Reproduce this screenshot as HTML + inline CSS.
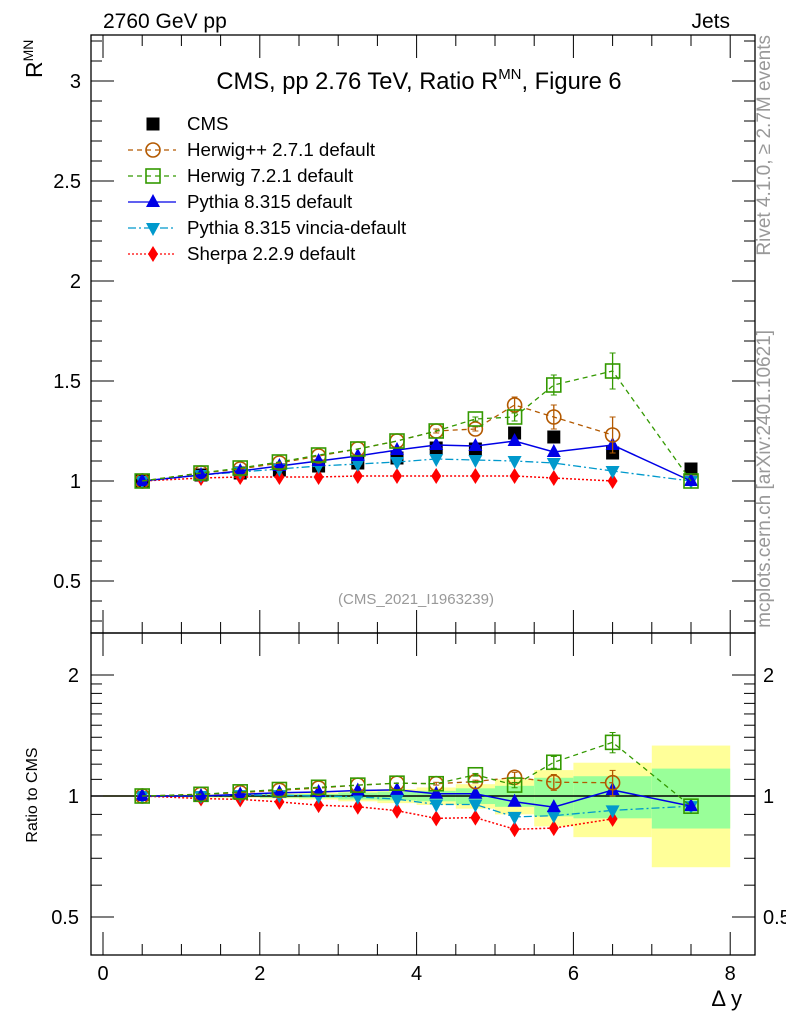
<!DOCTYPE html>
<html><head><meta charset="utf-8"><style>
body{margin:0;background:#fff}
svg{display:block;font-family:"Liberation Sans",sans-serif}
</style></head><body>
<svg id="c" width="786" height="1024" xmlns="http://www.w3.org/2000/svg"></svg>
<script>
const xs=[0.5,1.25,1.75,2.25,2.75,3.25,3.75,4.25,4.75,5.25,5.75,6.5,7.5];
const cms=[1.0,1.03,1.04,1.055,1.075,1.09,1.115,1.165,1.16,1.24,1.22,1.14,1.06];
const herwigpp=[1.0,1.04,1.06,1.09,1.125,1.16,1.2,1.25,1.26,1.38,1.32,1.23];
const herwigppErr=[0,0,0,0,0,0,0,0.01,0.01,0.04,0.06,0.09];
const herwig7=[1.0,1.04,1.065,1.095,1.13,1.16,1.2,1.25,1.31,1.32,1.48,1.55,1.0];
const herwig7Err=[0,0,0,0,0,0,0,0,0.01,0.02,0.05,0.09,0];
const pythia=[1.0,1.03,1.05,1.075,1.1,1.125,1.155,1.18,1.175,1.2,1.145,1.18,1.0];
const vincia=[1.0,1.03,1.045,1.06,1.075,1.085,1.095,1.11,1.105,1.1,1.09,1.05,1.0];
const sherpa=[1.0,1.015,1.02,1.02,1.02,1.025,1.025,1.025,1.025,1.025,1.015,1.0];
const binEdges=[0,1,1.5,2,2.5,3,3.5,4,4.5,5,5.5,6,7,8];
const bandTot=[0.005,0.01,0.01,0.015,0.02,0.03,0.04,0.05,0.07,0.1,0.16,0.21,0.335];
const bandStat=[0.003,0.005,0.006,0.01,0.012,0.02,0.025,0.03,0.045,0.06,0.11,0.12,0.17];
const yTicksMain=[0.5,1,1.5,2,2.5,3];
const yTicksRatio=[0.5,1,2];
const xTicks=[0,2,4,6,8];

const S=document.getElementById('c');const NS='http://www.w3.org/2000/svg';
function el(t,a,p){const e=document.createElementNS(NS,t);for(const k in a)e.setAttribute(k,a[k]);(p||S).appendChild(e);return e;}
const L=91,R=755,T=35,M=633,B=955;
const X=v=>103+78.4*v;
const Y=v=>481-(v-1)*200;
const YR=r=>796-Math.log2(r)*121;

for(let i=0;i<bandTot.length;i++){
 const x0=X(binEdges[i]),x1=X(binEdges[i+1]);
 let r=el('rect',{x:x0,y:YR(1+bandTot[i]),width:x1-x0,height:YR(1-bandTot[i])-YR(1+bandTot[i]),fill:'#ffff99'});
 
 r=el('rect',{x:x0,y:YR(1+bandStat[i]),width:x1-x0,height:YR(1-bandStat[i])-YR(1+bandStat[i]),fill:'#99ff99'});
 
}
el('line',{x1:L,x2:R,y1:796,y2:796,stroke:'#000','stroke-width':1.5});

let f=el('rect',{x:L,y:T,width:R-L,height:M-T,fill:'none',stroke:'#000','stroke-width':1.3});

f=el('rect',{x:L,y:M,width:R-L,height:B-M,fill:'none',stroke:'#000','stroke-width':1.3});


for(let v=0;v<=8.01;v+=0.5){
 const major=Math.abs(v%2)<0.01, len=major?23:11, x=X(v);
 for(const [yb,dir] of [[M,-1],[T,1],[B,-1],[M,1]]) el('line',{x1:x,x2:x,y1:yb,y2:yb+dir*len,stroke:'#000'});
}
for(const v of xTicks){const t=el('text',{x:X(v),y:980,'font-size':20,'text-anchor':'middle'});t.textContent=v;
 }
for(let v=0.3;v<=3.21;v+=0.1){
 const major=Math.abs((v*2)-Math.round(v*2))<0.01, len=major?23:11, y=Y(v);
 el('line',{x1:L,x2:L+len,y1:y,y2:y,stroke:'#000'});el('line',{x1:R,x2:R-len,y1:y,y2:y,stroke:'#000'});
}
for(const v of yTicksMain){const t=el('text',{x:81,y:Y(v)+7,'font-size':20,'text-anchor':'end'});t.textContent=v;
 }
[0.5,0.6,0.7,0.8,0.9,1,1.1,1.2,1.3,1.4,1.5,1.6,1.7,1.8,1.9,2].forEach(v=>{
 const major=yTicksRatio.includes(v),len=major?23:11,y=YR(v);
 el('line',{x1:L,x2:L+len,y1:y,y2:y,stroke:'#000'});el('line',{x1:R,x2:R-len,y1:y,y2:y,stroke:'#000'});
});
for(const v of yTicksRatio){
 let t=el('text',{x:79,y:YR(v)+7,'font-size':20,'text-anchor':'end'});t.textContent=v;
 
 t=el('text',{x:763,y:YR(v)+7,'font-size':20});t.textContent=v;
 
}

function marker(kind,x,y,c,g){
 if(kind==='sq')el('rect',{x:x-6.5,y:y-6.5,width:13,height:13,fill:c},g);
 else if(kind==='osq')el('rect',{x:x-7,y:y-7,width:14,height:14,fill:'none',stroke:c,'stroke-width':1.6},g);
 else if(kind==='oc')el('circle',{cx:x,cy:y,r:7,fill:'none',stroke:c,'stroke-width':1.6},g);
 else if(kind==='tu')el('polygon',{points:`${x},${y-8} ${x-7},${y+5} ${x+7},${y+5}`,fill:c},g);
 else if(kind==='td')el('polygon',{points:`${x},${y+8} ${x-7},${y-5} ${x+7},${y-5}`,fill:c},g);
 else if(kind==='dm')el('polygon',{points:`${x},${y-8} ${x-5},${y} ${x},${y+8} ${x+5},${y}`,fill:c},g);
}
const gc=el('g',{});
cms.forEach((v,i)=>marker('sq',X(xs[i]),Y(v),'#000',gc));

const series=[
 {name:'sherpa',vals:sherpa,err:null,c:'#ff0000',m:'dm',dash:'2,2',w:1.5},
 {name:'vincia',vals:vincia,err:null,c:'#0099cc',m:'td',dash:'8,3,2,3',w:1.3},
 {name:'pythia',vals:pythia,err:null,c:'#0000e6',m:'tu',dash:'',w:1.5},
 {name:'herwigpp',vals:herwigpp,err:herwigppErr,c:'#b35900',m:'oc',dash:'5,4',w:1.3},
 {name:'herwig7',vals:herwig7,err:herwig7Err,c:'#339900',m:'osq',dash:'5,4',w:1.3}
];
for(const s of series){
 for(const ratio of [false,true]){
  const g=el('g',{});
  
  
  const fy=(v,i)=>ratio?YR(v/cms[i]):Y(v);
  const pts=s.vals.map((v,i)=>X(xs[i])+','+fy(v,i)).join(' ');
  el('polyline',{points:pts,fill:'none',stroke:s.c,'stroke-width':s.w,'stroke-dasharray':s.dash},g);
  s.vals.forEach((v,i)=>{
   if(s.err&&s.err[i]>0){const e=s.err[i];
    el('line',{x1:X(xs[i]),x2:X(xs[i]),y1:fy(v+e,i),y2:fy(v-e,i),stroke:s.c,'stroke-width':1.3},g);
    el('line',{x1:X(xs[i])-3,x2:X(xs[i])+3,y1:fy(v+e,i),y2:fy(v+e,i),stroke:s.c},g);
    el('line',{x1:X(xs[i])-3,x2:X(xs[i])+3,y1:fy(v-e,i),y2:fy(v-e,i),stroke:s.c},g);}
   marker(s.m,X(xs[i]),fy(v,i),s.c,g);
  });
 }
}

const leg=[['CMS','#000','sq',''],['Herwig++ 2.7.1 default','#b35900','oc','5,4'],['Herwig 7.2.1 default','#339900','osq','5,4'],
 ['Pythia 8.315 default','#0000e6','tu',''],['Pythia 8.315 vincia-default','#0099cc','td','8,3,2,3'],['Sherpa 2.2.9 default','#ff0000','dm','2,2']];
leg.forEach((l,i)=>{const y=124+i*26;const g=el('g',{});
 
 if(i>0)el('line',{x1:128,x2:176,y1:y,y2:y,stroke:l[1],'stroke-width':1.3,'stroke-dasharray':l[3]},g);
 marker(l[2],153,y,l[1],g);
 const t=el('text',{x:187,y:y+6,'font-size':18.7},g);t.textContent=l[0];});

function txt(s,a,name){const t=el('text',a);t.innerHTML=s;return t;}
txt('2760 GeV pp',{x:103,y:28,'font-size':21},'energy-label');
txt('Jets',{x:730,y:28,'font-size':21,'text-anchor':'end'},'process-label');
txt('CMS, pp 2.76 TeV, Ratio R<tspan dy="-10" font-size="15">MN</tspan><tspan dy="10">, Figure 6</tspan>',{x:419,y:89,'font-size':23.7,'text-anchor':'middle'},'plot-title');
txt('(CMS_2021_I1963239)',{x:416,y:604,'font-size':15,fill:'#999','text-anchor':'middle'},'analysis-id');
txt('R<tspan dy="-9" font-size="14">MN</tspan>',{x:0,y:0,'font-size':23,transform:'translate(42,78) rotate(-90)'},'y-axis-title');
txt('Ratio to CMS',{x:0,y:0,'font-size':16,'text-anchor':'middle',transform:'translate(37,795) rotate(-90)'},'ratio-axis-title');
txt('Δ y',{x:742,y:1006,'font-size':22,'text-anchor':'end'},'x-axis-title');
txt('Rivet 4.1.0, ≥ 2.7M events',{x:0,y:0,'font-size':19,fill:'#999','text-anchor':'end',transform:'translate(770,35) rotate(-90)'},'rivet-label');
txt('mcplots.cern.ch [arXiv:2401.10621]',{x:0,y:0,'font-size':19,fill:'#999','text-anchor':'end',transform:'translate(770,330) rotate(-90)'},'mcplots-label');
</script>
</body></html>
